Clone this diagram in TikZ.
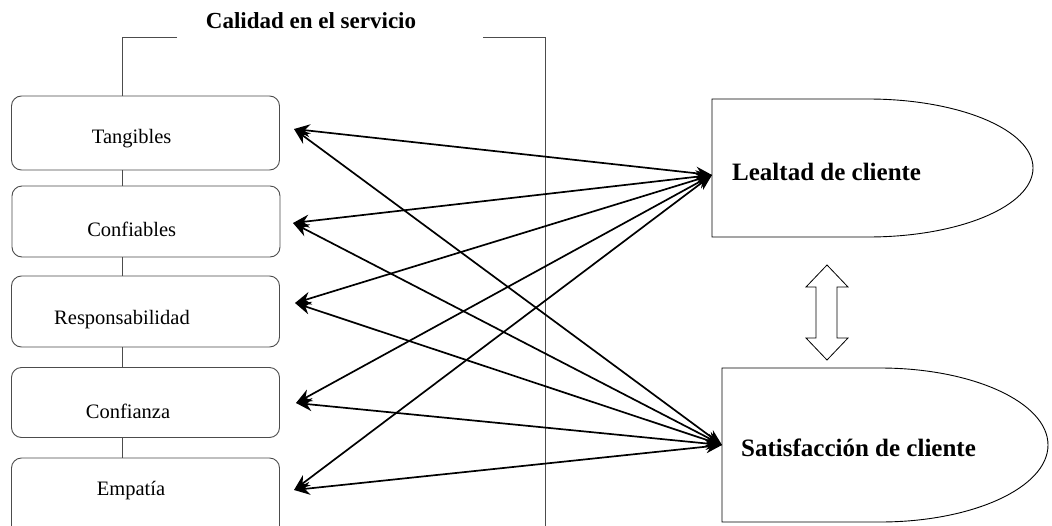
\documentclass[tikz,border=0pt]{standalone}
\usepackage{fontspec}
\setmainfont{Liberation Serif}
\usetikzlibrary{arrows.meta}
\begin{document}
\begin{tikzpicture}[x=1pt,y=-1pt,
  boxst/.style={draw=black!70, line width=0.9pt, rounded corners=10pt, minimum width=268pt, inner sep=0pt},
  lbl/.style={font=\fontsize{20.5}{24}\selectfont, inner sep=0pt},
  big/.style={font=\fontsize{25}{29}\selectfont\bfseries, inner sep=0pt},
  conn/.style={draw=black!70, line width=0.9pt},
  dbl/.style={line width=1.7pt, {Stealth[length=16pt,width=13pt]}-{Stealth[length=16pt,width=13pt]}},
  shp/.style={draw=black, line width=0.9pt}
]
\useasboundingbox (0,0) rectangle (1052,525);
\clip (0,0) rectangle (1052,525);
\fill[white] (0,0) rectangle (1052,525);

% title and bracket
\node[font=\fontsize{23}{27}\selectfont\bfseries, inner sep=0pt] (title) at (311,21) {Calidad en el servicio};
\coordinate (bl) at (177,37);
\coordinate (br) at (483,37);
\coordinate (bend) at (545,530);

% boxes
\node[boxst, minimum height=74pt] (b1) at (145.5,133) {};
\node[boxst, minimum height=71pt] (b2) at (146,221.5) {};
\node[boxst, minimum height=71pt] (b3) at (145.5,311.5) {};
\node[boxst, minimum height=70pt] (b4) at (145.5,402.5) {};
\node[boxst, minimum height=90pt] (b5) at (145.5,503) {};

\node[lbl] (l1) at (131.7,139) {Tangibles};
\node[lbl] (l2) at (131.7,229) {Confiables};
\node[lbl] (l3) at (122,320) {Responsabilidad};
\node[lbl] (l4) at (128,411) {Confianza};
\node[lbl] (l5) at (131,491) {Empatía};

\draw[conn] (bl) -- (122,37) -- (b1.north -| 122,0);
\draw[conn] (br) -| (bend);
\draw[conn] (b1.south -| 122,0) -- (b2.north -| 122,0);
\draw[conn] (b2.south -| 122,0) -- (b3.north -| 122,0);
\draw[conn] (b3.south -| 122,0) -- (b4.north -| 122,0);
\draw[conn] (b4.south -| 122,0) -- (b5.north -| 122,0);

% right shapes
\draw[shp] (712,99) -- (868,99) arc[start angle=-90, end angle=90, x radius=165, y radius=69] -- (712,237) -- cycle;
\draw[shp] (722,368) -- (880,368) arc[start angle=-90, end angle=90, x radius=168, y radius=77] -- (722,522) -- cycle;
\node[big, anchor=west] (lealtad) at (732,172) {Lealtad de cliente};
\node[big, anchor=west] (satis) at (741,448) {Satisfacción de cliente};

\coordinate (L) at (712,175);
\coordinate (S) at (722,445);
\coordinate (t1) at (294,129);
\coordinate (t2) at (293,223);
\coordinate (t3) at (295,303);
\coordinate (t4) at (296,403);
\coordinate (t5) at (294,490);

\foreach \t in {t1,t2,t3,t4,t5}{
  \draw[dbl] (\t) -- (L);
  \draw[dbl] (\t) -- (S);
}

% double block arrow
\draw[line width=0.8pt, fill=white] (827,265) -- (848,287) -- (837,287) -- (837,338) -- (848,338) -- (827,360) -- (806,338) -- (816,338) -- (816,287) -- (806,287) -- cycle;
\end{tikzpicture}
\end{document}
